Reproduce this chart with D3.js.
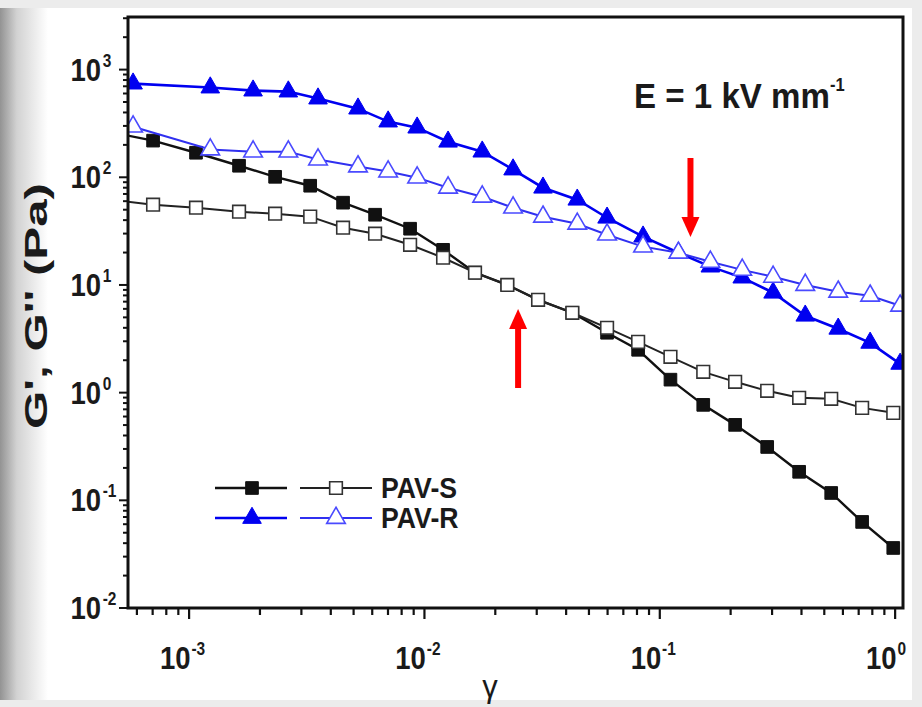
<!DOCTYPE html>
<html>
<head>
<meta charset="utf-8">
<script src="https://cdn.jsdelivr.net/npm/d3@7"></script>
<style>
  html, body { margin: 0; padding: 0; background: #ececec; }
  text { font-family: "Liberation Sans", Arial, sans-serif; font-weight: bold; }
</style>
</head>
<body>
<div id="chart"></div>
<script>
const width = 922;
const height = 707;

// strain values
const strainS = [5.0e-4, 7.03e-4, 1.07e-3, 1.63e-3, 2.32e-3, 3.27e-3, 4.51e-3, 6.17e-3, 8.69e-3,
    0.0120, 0.0164, 0.0225, 0.0304, 0.0425, 0.0597, 0.0809, 0.111, 0.153, 0.209, 0.286,
    0.391, 0.535, 0.724, 0.982];
const pavS_G1 = [254, 219, 169, 128, 101, 83.5, 58.1, 44.9, 33.3,
    21.2, 13.0, 10.0, 7.28, 5.52, 3.60, 2.50, 1.32, 0.770, 0.502, 0.313,
    0.184, 0.117, 0.0630, 0.0361];
const pavS_G2 = [60.6, 55.6, 52.2, 47.9, 45.9, 43.1, 34.0, 29.9, 23.6,
    17.9, 13.0, 10.0, 7.28, 5.52, 4.00, 2.96, 2.15, 1.56, 1.26, 1.04,
    0.895, 0.876, 0.722, 0.649];

const strainR = [5.78e-4, 1.23e-3, 1.87e-3, 2.64e-3, 3.53e-3, 5.22e-3, 7.01e-3, 9.31e-3,
    0.0126, 0.0176, 0.0238, 0.0319, 0.0446, 0.0597, 0.0849, 0.120, 0.164, 0.224, 0.303,
    0.415, 0.573, 0.783, 1.05];
const pavR_G1 = [741, 681, 638, 625, 538, 434, 329, 289,
    214, 173, 118, 80.0, 61.9, 42.1, 28.1, 19.9, 14.8, 11.7, 8.47,
    5.18, 3.92, 2.90, 1.85];
const pavR_G2 = [295, 181, 173, 173, 146, 126, 113, 99.2,
    80.0, 66.0, 52.2, 43.0, 37.0, 29.3, 22.7, 19.9, 16.4, 13.8, 11.9,
    10.0, 8.65, 7.94, 6.41];

const xMajor = [-3, -2, -1, 0];
const yMajor = [-2, -1, 0, 1, 2, 3];
const seriesNames = ["PAV-S", "PAV-R"];

const plotLeft = 128, plotRight = 903, plotTop = 17, plotBottom = 608;
const narrow = 0.86;

const svg = d3.select("#chart").append("svg")
    .attr("width", width)
    .attr("height", height);

// photographed-slide background
const defs = svg.append("defs");
const grad = defs.append("linearGradient").attr("id", "leftShade")
    .attr("x1", 0).attr("x2", 1).attr("y1", 0).attr("y2", 0);
grad.append("stop").attr("offset", "0%").attr("stop-color", "#939393");
grad.append("stop").attr("offset", "35%").attr("stop-color", "#d2d2d2");
grad.append("stop").attr("offset", "100%").attr("stop-color", "#ffffff");

svg.append("rect").attr("x", 0).attr("y", 0).attr("width", width).attr("height", height).attr("fill", "#ececec");
svg.append("rect").attr("x", 0).attr("y", 8).attr("width", 912).attr("height", 692).attr("fill", "#ffffff");
svg.append("rect").attr("x", 0).attr("y", 8).attr("width", 48).attr("height", 692).attr("fill", "url(#leftShade)");

defs.append("clipPath").attr("id", "plotClip")
    .append("rect")
    .attr("x", plotLeft).attr("y", plotTop)
    .attr("width", plotRight - plotLeft).attr("height", plotBottom - plotTop);

const x = d3.scaleLog().domain([5.5e-4, 1.08]).range([plotLeft, plotRight]);
const y = d3.scaleLog().domain([0.01, 3080]).range([plotBottom, plotTop]);

// minor + major ticks
const xTicks = [];
for (let e = -4; e <= 0; e++) {
    for (let m = 1; m <= 9; m++) {
        const v = m * Math.pow(10, e);
        if (v >= x.domain()[0] && v <= x.domain()[1]) xTicks.push({ v, major: m === 1 });
    }
}
const yTicks = [];
for (let e = -2; e <= 3; e++) {
    for (let m = 1; m <= 9; m++) {
        const v = m * Math.pow(10, e);
        if (v >= y.domain()[0] && v <= y.domain()[1]) yTicks.push({ v, major: m === 1 });
    }
}

const axes = svg.append("g");
axes.selectAll(".xt").data(xTicks).enter().append("line")
    .attr("x1", d => x(d.v)).attr("x2", d => x(d.v))
    .attr("y1", plotBottom).attr("y2", d => plotBottom + (d.major ? 11 : 7))
    .attr("stroke", "#111").attr("stroke-width", 2.2);
axes.selectAll(".yt").data(yTicks).enter().append("line")
    .attr("y1", d => y(d.v)).attr("y2", d => y(d.v))
    .attr("x1", plotLeft).attr("x2", d => plotLeft - (d.major ? 9 : 5))
    .attr("stroke", "#111").attr("stroke-width", 2);

// tick labels (condensed bold, superscript exponent)
const xl = axes.selectAll(".xl").data(xMajor).enter().append("g")
    .attr("transform", d => `translate(${x(Math.pow(10, d)) - 2},669) scale(${narrow},1)`);
xl.append("text").attr("text-anchor", "end").attr("x", 4)
    .style("font-size", "32px").attr("fill", "#1a1a1a").text("10");
xl.append("text").attr("text-anchor", "start").attr("x", 5).attr("y", -14)
    .style("font-size", "18px").attr("fill", "#1a1a1a").text(d => d === 0 ? "0" : d);

const yl = axes.selectAll(".yl").data(yMajor).enter().append("g")
    .attr("transform", d => `translate(101,${y(Math.pow(10, d)) + 11}) scale(${narrow},1)`);
yl.append("text").attr("text-anchor", "end")
    .style("font-size", "32px").attr("fill", "#1a1a1a").text("10");
yl.append("text").attr("text-anchor", "start").attr("x", 2).attr("y", -14)
    .style("font-size", "18px").attr("fill", "#1a1a1a").text(d => d);

// axis titles
svg.append("text")
    .attr("x", 490).attr("y", 697)
    .attr("text-anchor", "middle")
    .style("font-size", "31px")
    .style("font-weight", "normal")
    .attr("fill", "#1a1a1a")
    .text("γ");

svg.append("text")
    .attr("transform", "translate(47,306) rotate(-90)")
    .attr("text-anchor", "middle")
    .attr("textLength", 246)
    .attr("lengthAdjust", "spacingAndGlyphs")
    .style("font-size", "32px")
    .attr("fill", "#1a1a1a")
    .text("G', G'' (Pa)");

// series
const plot = svg.append("g").attr("clip-path", "url(#plotClip)");

const series = [
    { xs: strainS, ys: pavS_G1, color: "#111111", lw: 2.4, shape: "square", filled: true },
    { xs: strainS, ys: pavS_G2, color: "#222222", lw: 2, shape: "square", filled: false },
    { xs: strainR, ys: pavR_G1, color: "#0000f0", lw: 2.6, shape: "triangle", filled: true },
    { xs: strainR, ys: pavR_G2, color: "#3030f0", lw: 2, shape: "triangle", filled: false }
];

const line = d3.line().x(d => x(d[0])).y(d => y(d[1]));
const squareSym = d3.symbol().type(d3.symbolSquare).size(160);
const triSym = d3.symbol().type(d3.symbolTriangle).size(150);

function drawMarker(g, s, cx, cy) {
    g.append("path")
        .attr("transform", `translate(${cx},${cy})`)
        .attr("d", s.shape === "square" ? squareSym() : triSym())
        .attr("fill", s.filled ? s.color : "#ffffff")
        .attr("stroke", s.filled ? s.color : (s.shape === "square" ? "#333" : "#4a4aff"))
        .attr("stroke-width", s.filled ? 1 : 1.6);
}

series.forEach(s => {
    const pts = s.xs.map((v, i) => [v, s.ys[i]]);
    plot.append("path")
        .datum(pts)
        .attr("fill", "none")
        .attr("stroke", s.color)
        .attr("stroke-width", s.lw)
        .attr("d", line);
    const mg = plot.append("g");
    pts.forEach(p => drawMarker(mg, s, x(p[0]), y(p[1])));
});

// frame
svg.append("rect")
    .attr("x", plotLeft).attr("y", plotTop)
    .attr("width", plotRight - plotLeft).attr("height", plotBottom - plotTop)
    .attr("fill", "none").attr("stroke", "#111").attr("stroke-width", 3);

// annotation
const annG = svg.append("g").attr("transform", `translate(634,108) scale(0.92,1)`);
const ann = annG.append("text")
    .style("font-size", "36px")
    .attr("fill", "#1a1a1a");
ann.append("tspan").text("E = 1 kV mm");
ann.append("tspan").attr("dy", -17).style("font-size", "18px").text("-1");

// arrows
function arrow(xp, yStart, yTip) {
    const dir = yTip > yStart ? 1 : -1;
    const headLen = 20, headHalf = 9;
    svg.append("line")
        .attr("x1", xp).attr("x2", xp)
        .attr("y1", yStart).attr("y2", yTip - dir * headLen)
        .attr("stroke", "#ff0000").attr("stroke-width", 6);
    svg.append("path")
        .attr("d", `M${xp - headHalf},${yTip - dir * headLen} L${xp + headHalf},${yTip - dir * headLen} L${xp},${yTip} Z`)
        .attr("fill", "#ff0000");
}
arrow(x(0.135), 158, 237);
arrow(x(0.0250), 388, 309);

// legend
const legendRows = [
    { label: seriesNames[0], a: series[0], b: series[1], y: 488 },
    { label: seriesNames[1], a: series[2], b: series[3], y: 518 }
];
const lg = svg.append("g");
legendRows.forEach(r => {
    lg.append("line").attr("x1", 215).attr("x2", 287).attr("y1", r.y).attr("y2", r.y)
        .attr("stroke", r.a.color).attr("stroke-width", r.a.lw);
    drawMarker(lg, r.a, 252, r.y);
    lg.append("line").attr("x1", 300).attr("x2", 372).attr("y1", r.y).attr("y2", r.y)
        .attr("stroke", r.b.color).attr("stroke-width", r.b.lw);
    drawMarker(lg, r.b, 336, r.y);
    lg.append("g").attr("transform", `translate(381,${r.y + 10}) scale(0.92,1)`)
        .append("text")
        .style("font-size", "29px").attr("fill", "#1a1a1a").text(r.label);
});
</script>
</body>
</html>
